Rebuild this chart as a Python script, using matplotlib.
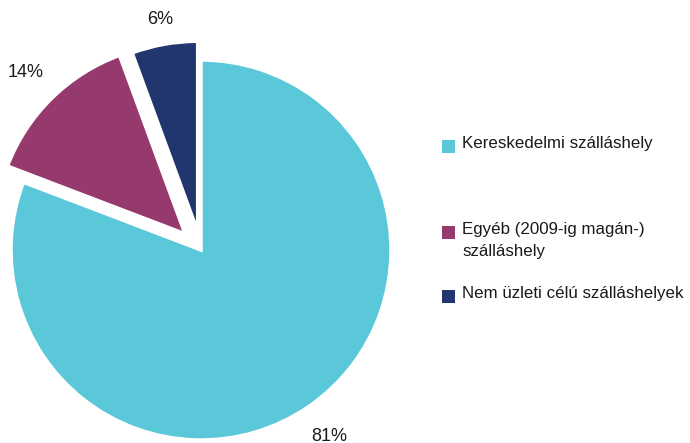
import matplotlib
matplotlib.use("Agg")
import matplotlib.pyplot as plt
from matplotlib.patches import Rectangle
import numpy as np

plt.rcParams['font.family'] = ['Liberation Sans', 'DejaVu Sans']

categories = ["Kereskedelmi szálláshely", "Egyéb (2009-ig magán-)\nszálláshely", "Nem üzleti célú szálláshelyek"]
values = [80.8, 13.6, 5.6]
pct_labels = ["81%", "14%", "6%"]
colors = ["#5BC8DA", "#963A6E", "#21366E"]
explode = [0.0, 0.12, 0.1]

W, H = 690, 443
fig = plt.figure(figsize=(W/100, H/100), dpi=100)
ax = fig.add_axes([0, 0, 1, 1])
r_px = 190
cx, cy = 201, 443 - 250

wedges, texts = ax.pie(values, colors=colors, explode=explode, startangle=90,
                       counterclock=False, radius=1.0,
                       wedgeprops=dict(edgecolor="white", linewidth=2.5))
for w, lab, e, d in zip(wedges, pct_labels, explode, [1.19, 1.19, 1.13]):
    ang = np.deg2rad((w.theta1 + w.theta2) / 2)
    x = (e + d) * np.cos(ang)
    y = (e + d) * np.sin(ang)
    ax.text(x, y, lab, ha="center", va="center", fontsize=13, color="#1a1a1a")

ax.set_xlim(-cx / r_px, (W - cx) / r_px)
ax.set_ylim(-cy / r_px, (H - cy) / r_px)
ax.set_aspect("auto")
ax.axis("off")

leg_y = [146, 232, 296]
for lab, col, y in zip(categories, colors, leg_y):
    fig.patches.append(Rectangle((442 / W, 1 - (y + 6.5) / H), 13 / W, 13 / H,
                                 transform=fig.transFigure, facecolor=col, edgecolor="none"))
    fig.text(462 / W, 1 - (y - 10) / H, lab, ha="left", va="top", fontsize=12.2,
             color="#1a1a1a", linespacing=1.6)

fig.savefig("out.png", dpi=100)
